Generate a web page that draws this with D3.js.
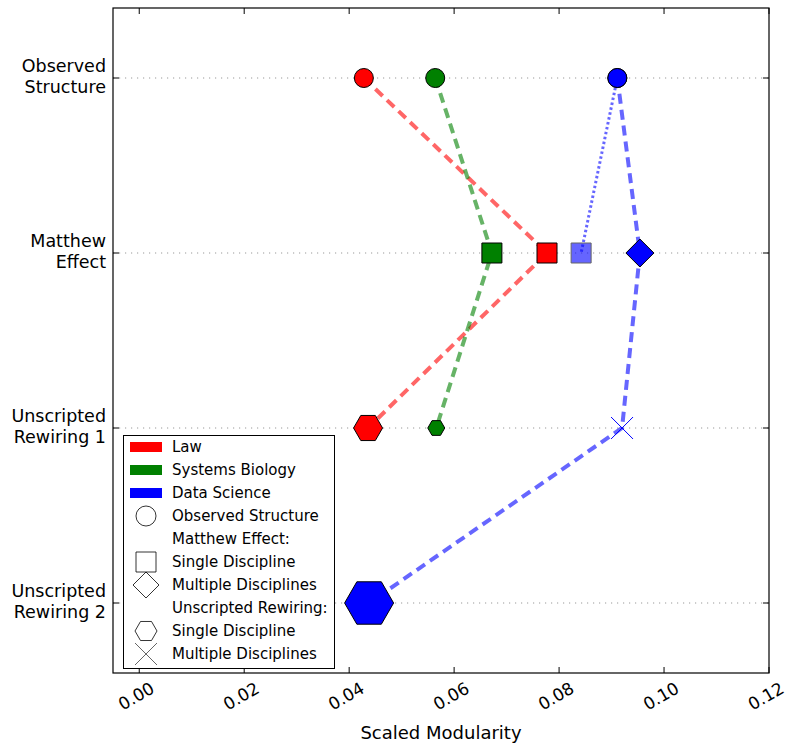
<!DOCTYPE html>
<html><head><meta charset="utf-8">
<script src="https://cdn.jsdelivr.net/npm/d3@7"></script>
<style>body{margin:0;background:#fff} text{font-family:"DejaVu Sans",sans-serif;fill:#000}</style>
</head><body><svg id="c" width="786" height="745"></svg>
<script>
const categories = [["Observed","Structure"],["Matthew","Effect"],["Unscripted","Rewiring 1"],["Unscripted","Rewiring 2"]];
const xTicks = [0,0.02,0.04,0.06,0.08,0.10,0.12];
const disciplines = ["Law","Systems Biology","Data Science"];
const lawValues = [0.0428,0.0777,0.0436];
const bioValues = [0.0564,0.0672,0.0566];
const dsSingleValues = [0.0911,0.0842];
const dsMultiValues = [0.0911,0.0954,0.0920,0.0438];

const W=786,H=745, L=113,R=769,T=8,B=673;
const svg=d3.select("#c");
const x=d3.scaleLinear().domain([-0.005,0.12]).range([L,R]);
const y=d3.scaleLinear().domain([-0.4,3.4]).range([T,B]);
const colors={Law:"#ff0000","Systems Biology":"#008000","Data Science":"#0000ff"};

// grid
svg.append("g").selectAll("line").data(categories).join("line")
  .attr("x1",L).attr("x2",R).attr("y1",(d,i)=>y(i)).attr("y2",(d,i)=>y(i))
  .attr("stroke","#999").attr("stroke-width",1).attr("stroke-dasharray","1.2,4.8");

function hexPath(r){const p=[];for(let k=0;k<6;k++){const a=k*Math.PI/3;p.push([r*Math.cos(a),r*Math.sin(a)]);}return "M"+p.map(q=>q.join(",")).join("L")+"Z";}
function shapePath(s,sz){
  if(s==="circle") return d3.symbol(d3.symbolCircle,Math.PI*sz*sz)();
  if(s==="square") return `M${-sz},${-sz}H${sz}V${sz}H${-sz}Z`;
  if(s==="diamond") return `M0,${-sz}L${sz},0L0,${sz}L${-sz},0Z`;
  if(s==="hex") return hexPath(sz);
  if(s==="x") return `M${-sz},${-sz}L${sz},${sz}M${-sz},${sz}L${sz},${-sz}`;
}

const series=[
  {vals:lawValues,color:colors.Law,dash:"10,6",w:4,shapes:[["circle",9.5],["square",10],["hex",14.5]]},
  {vals:bioValues,color:colors["Systems Biology"],dash:"10,6",w:4,shapes:[["circle",9.5],["square",10],["hex",8.5]]},
  {vals:dsSingleValues,color:colors["Data Science"],dash:"2.5,2.5",w:3,shapes:[["circle",9.5],["square",10,0.6]]},
  {vals:dsMultiValues,color:colors["Data Science"],dash:"10,6",w:4,shapes:[["circle",9.5],["diamond",14],["x",11],["hex",24.5]]}
];
const line=d3.line().x(d=>x(d[0])).y(d=>y(d[1]));
const gl=svg.append("g");
series.forEach(s=>{
  gl.append("path").attr("d",line(s.vals.map((v,i)=>[v,i]))).attr("fill","none")
    .attr("stroke",s.color).attr("stroke-opacity",0.6).attr("stroke-width",s.w).attr("stroke-dasharray",s.dash);
});
const gm=svg.append("g");
series.forEach(s=>{
  s.vals.forEach((v,i)=>{
    const [shape,sz,op]=s.shapes[i];
    const p=gm.append("path").attr("d",shapePath(shape,sz)).attr("transform",`translate(${x(v)},${y(i)})`);
    if(shape==="x") p.attr("fill","none").attr("stroke",s.color).attr("stroke-width",1);
    else p.attr("fill",s.color).attr("stroke","#000").attr("stroke-width",1).attr("opacity",op||1);
  });
});

// frame
svg.append("rect").attr("x",L).attr("y",T).attr("width",R-L).attr("height",B-T).attr("fill","none").attr("stroke","#000").attr("stroke-width",1.2);
// x ticks
const gx=svg.append("g");
xTicks.forEach(t=>{
  gx.append("line").attr("x1",x(t)).attr("x2",x(t)).attr("y1",B).attr("y2",B-6).attr("stroke","#000");
  gx.append("line").attr("x1",x(t)).attr("x2",x(t)).attr("y1",T).attr("y2",T+6).attr("stroke","#000");
  gx.append("text").attr("transform",`translate(${x(t)-3},${B+23}) rotate(-30)`).attr("text-anchor","middle")
    .attr("dominant-baseline","central").attr("font-size",17).text(d3.format(".2f")(t));
});
svg.append("text").attr("x",(L+R)/2).attr("y",739).attr("text-anchor","middle").attr("font-size",18).text("Scaled Modularity");
// y ticks
const gy=svg.append("g");
categories.forEach((c,i)=>{
  gy.append("line").attr("x1",L).attr("x2",L+6).attr("y1",y(i)).attr("y2",y(i)).attr("stroke","#000");
  gy.append("line").attr("x1",R).attr("x2",R-6).attr("y1",y(i)).attr("y2",y(i)).attr("stroke","#000");
  const t=gy.append("text").attr("text-anchor","end").attr("font-size",17.5);
  t.append("tspan").attr("x",106).attr("y",y(i)-6).text(c[0]);
  t.append("tspan").attr("x",106).attr("y",y(i)+15).text(c[1]);
});

// legend
const lg=svg.append("g");
lg.append("rect").attr("x",123.5).attr("y",435.5).attr("width",211).attr("height",233).attr("fill","#fff").attr("stroke","#000").attr("stroke-width",1);
const legendItems=[
  {label:disciplines[0],patch:colors.Law},
  {label:disciplines[1],patch:colors["Systems Biology"]},
  {label:disciplines[2],patch:colors["Data Science"]},
  {label:"Observed Structure",shape:["circle",10]},
  {label:"Matthew Effect:"},
  {label:"Single Discipline",shape:["square",10]},
  {label:"Multiple Disciplines",shape:["diamond",13]},
  {label:"Unscripted Rewiring:"},
  {label:"Single Discipline",shape:["hex",11]},
  {label:"Multiple Disciplines",shape:["x",11]}
];
legendItems.forEach((d,i)=>{
  const cy=447+i*23;
  if(d.patch) lg.append("rect").attr("x",130).attr("y",cy-5).attr("width",32).attr("height",10).attr("fill",d.patch);
  if(d.shape) lg.append("path").attr("d",shapePath(d.shape[0],d.shape[1])).attr("transform",`translate(146,${cy})`)
    .attr("fill","none").attr("stroke",d.shape[0]==="x"?"#666":"#000").attr("stroke-width",d.shape[0]==="x"?1:0.8);
  lg.append("text").attr("x",172).attr("y",cy+5).attr("font-size",15).text(d.label);
});
</script></body></html>
